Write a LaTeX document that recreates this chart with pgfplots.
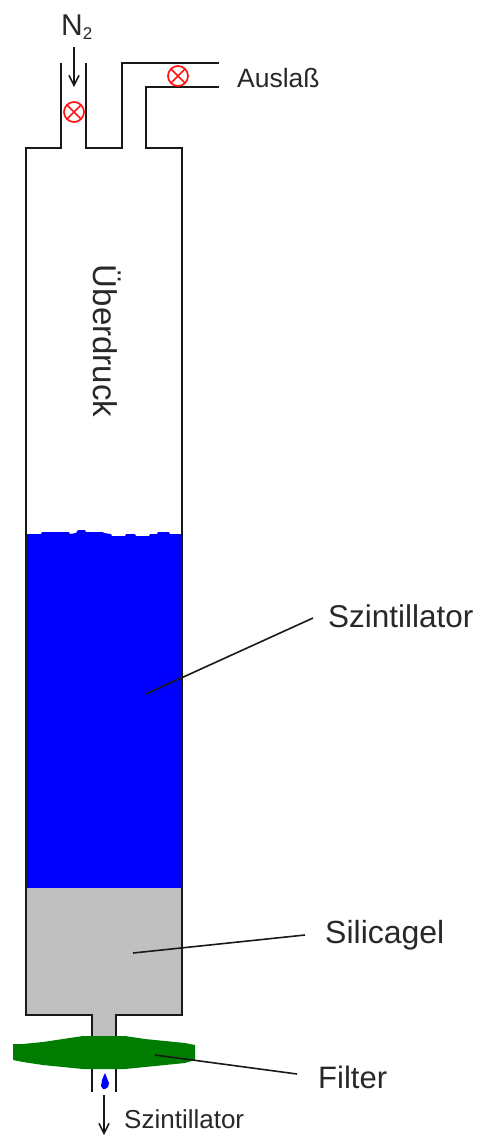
\documentclass[border=0pt]{standalone}
\usepackage{pgfplots}
\pgfplotsset{compat=1.18}
\usepackage{fontspec}
\setmainfont{Liberation Sans}
\usetikzlibrary{arrows.meta}
\definecolor{szblue}{RGB}{0,0,255}
\definecolor{silgrey}{RGB}{192,192,192}
\definecolor{filtgreen}{RGB}{0,125,0}
\definecolor{valve}{RGB}{255,20,20}
\definecolor{ink}{RGB}{25,25,25}
\definecolor{txt}{RGB}{40,40,40}
\begin{document}
\begin{tikzpicture}[x=1pt,y=1pt]
\begin{axis}[
  at={(0pt,0pt)}, anchor=south west,
  scale only axis, width=480pt, height=1136pt,
  xmin=0, xmax=480, ymin=0, ymax=1136, y dir=reverse,
  hide axis, clip=false,
  every axis plot/.append style={line join=miter},
  wall/.style={draw=ink, line width=2.1pt, no marks},
  lead/.style={draw=ink, line width=1.6pt, no marks},
  flow/.style={draw=ink, line width=1.5pt, no marks, -{Straight Barb[length=10pt,width=10pt]}},
]
% Scintillator liquid
\addplot[fill=szblue, draw=none] coordinates {
 (26,534)(41,534)(42,532)(69,532)(70,534)(76,533)(78,530)(85,530)(86,532)(103,532)(104,533)(111,534)(112,536)(125,536)(126,534)(135,534)(136,536)(149,536)(150,534)(157,534)(158,532)(169,532)(170,534)(182,534)(182,888)(26,888)} -- cycle;
% Silica gel
\addplot[fill=silgrey, draw=none] coordinates {
 (26,888)(182,888)(182,1015)(116,1015)(116,1040)(92,1040)(92,1015)(26,1015)} -- cycle;
% Column walls
\addplot[wall] coordinates {(61,63)(61,148)(26,148)(26,1015)(92,1015)(92,1038)};
\addplot[wall] coordinates {(86,63)(86,148)(122,148)(122,63)(219,63)};
\addplot[wall] coordinates {(219,87)(146,87)(146,148)(182,148)(182,1015)(116,1015)(116,1038)};
\addplot[wall] coordinates {(92,1066)(92,1092)};
\addplot[wall] coordinates {(116,1066)(116,1092)};
% Filter
\addplot[fill=filtgreen, draw=none] coordinates {
 (13,1044)(23,1044)(43,1042)(63,1039)(83,1036)(125,1036)(145,1039)(165,1041)(185,1043)(195,1045)
 (195,1060)(185,1063)(165,1065)(145,1067)(125,1069)(83,1069)(63,1067)(43,1065)(23,1062)(13,1060)} -- cycle;
% Drop
\addplot[fill=szblue, draw=none] coordinates {
 (105,1073)(107,1078)(109,1083)(108,1087)(105,1089)(103,1089)(101,1086)(102,1080)(104,1075)} -- cycle;
% Leader lines
\addplot[lead] coordinates {(146,694)(313,618)};
\addplot[lead] coordinates {(133,953)(305,935)};
\addplot[lead] coordinates {(155,1055)(297,1074)};
% Flow arrows
\addplot[flow] coordinates {(74,47)(74,87)};
\addplot[flow] coordinates {(104,1095)(104,1135)};
% Valves
\addplot[only marks, mark=otimes, mark size=10pt, mark options={draw=valve, line width=1.7pt}] coordinates {(74,112)(178,76)};
% Labels
\node[text=txt, font=\fontsize{30}{30}\selectfont, inner sep=0pt] at (axis cs:77,27) {N\textsubscript{\fontsize{17}{17}\selectfont 2}};
\node[text=txt, font=\fontsize{26.5}{26}\selectfont, inner sep=0pt, anchor=west] at (axis cs:237,78) {Auslaß};
\node[text=txt, font=\fontsize{33}{33}\selectfont, inner sep=0pt, rotate=-90] at (axis cs:107,341) {Überdruck};
\node[text=txt, font=\fontsize{31.5}{32}\selectfont, inner sep=0pt, anchor=west] at (axis cs:328,616) {Szintillator};
\node[text=txt, font=\fontsize{32}{32}\selectfont, inner sep=0pt, anchor=west] at (axis cs:325,935) {Silicagel};
\node[text=txt, font=\fontsize{31}{31}\selectfont, inner sep=0pt, anchor=west] at (axis cs:318,1077) {Filter};
\node[text=txt, font=\fontsize{26}{26}\selectfont, inner sep=0pt, anchor=west] at (axis cs:124,1119) {Szintillator};
\end{axis}
\pgfresetboundingbox
\path[use as bounding box] (0pt,0pt) rectangle (480pt,1136pt);
\end{tikzpicture}
\end{document}
